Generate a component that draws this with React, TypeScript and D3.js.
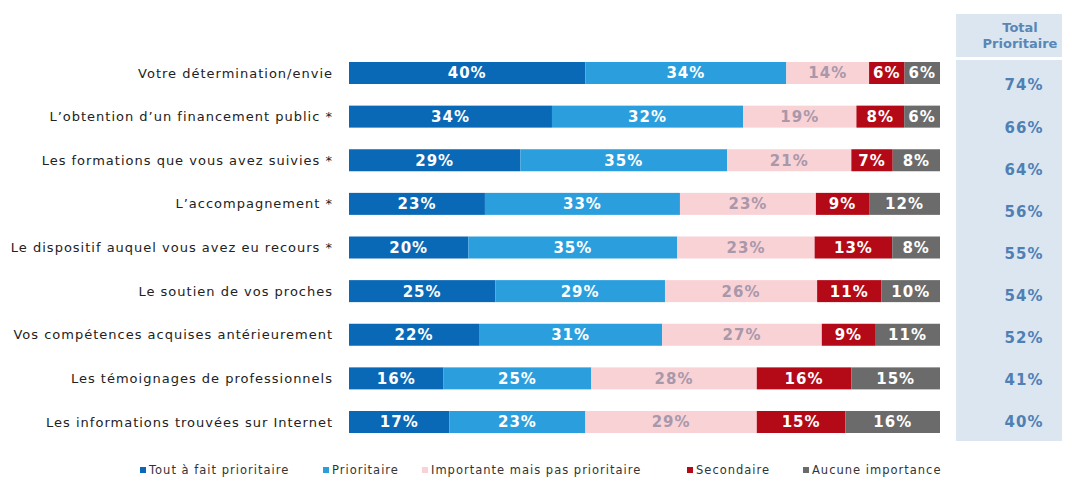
import * as d3 from 'd3'

const WIDTH = 1079
const HEIGHT = 478

const categories = [
  'Votre détermination/envie',
  'L’obtention d’un financement public *',
  'Les formations que vous avez suivies *',
  'L’accompagnement *',
  'Le dispositif auquel vous avez eu recours *',
  'Le soutien de vos proches',
  'Vos compétences acquises antérieurement',
  'Les témoignages de professionnels',
  'Les informations trouvées sur Internet',
]

const seriesNames = [
  'Tout à fait prioritaire',
  'Prioritaire',
  'Importante mais pas prioritaire',
  'Secondaire',
  'Aucune importance',
]

const toutAFait = [40, 34, 29, 23, 20, 25, 22, 16, 17]
const prioritaire = [34, 32, 35, 33, 35, 29, 31, 25, 23]
const importante = [14, 19, 21, 23, 23, 26, 27, 28, 29]
const secondaire = [6, 8, 7, 9, 13, 11, 9, 16, 15]
const aucune = [6, 6, 8, 12, 8, 10, 11, 15, 16]
const totals = [74, 66, 64, 56, 55, 54, 52, 41, 40]

const COLORS = ['#0a69b6', '#2b9fde', '#f9d2d6', '#b40a17', '#6b6b6b']
const TEXT_COLORS = ['#ffffff', '#ffffff', '#a898aa', '#ffffff', '#ffffff']
const LEGEND_X = [140, 323, 422, 687, 803]

const BAR_X0 = 349
const BAR_X1 = 940
const BAR_H = 22
const PANEL = { x: 956, w: 106, headTop: 14, headBottom: 57, bodyTop: 60, bottom: 441 }
const FONT = '"DejaVu Sans", Verdana, sans-serif'

type Row = { cat: string; values: number[] }

const rows: Row[] = categories.map((cat, i) => ({
  cat,
  values: [toutAFait[i], prioritaire[i], importante[i], secondaire[i], aucune[i]],
}))

export default function App() {
  const x = d3.scaleLinear().domain([0, 1]).range([BAR_X0, BAR_X1])
  const y = d3.scalePoint<string>().domain(categories).range([73, 422])
  const yTotal = d3.scalePoint<string>().domain(categories).range([85, 422])

  const stack = d3
    .stack<Row, number>()
    .keys(d3.range(seriesNames.length))
    .value((d, k) => d.values[k])
    .offset(d3.stackOffsetExpand)
  const layers = stack(rows)

  return (
    <svg
      width={WIDTH}
      height={HEIGHT}
      style={{ position: 'absolute', left: 0, top: 0, background: '#fff' }}
      fontFamily={FONT}
    >
      {/* total panel */}
      <rect
        x={PANEL.x}
        y={PANEL.headTop}
        width={PANEL.w}
        height={PANEL.bottom - PANEL.headTop}
        fill="#dce6f1"
      />
      <rect
        x={PANEL.x}
        y={PANEL.headBottom}
        width={PANEL.w}
        height={PANEL.bodyTop - PANEL.headBottom}
        fill="#fff"
      />
      <text
        x={PANEL.x + 64}
        y={32}
        textAnchor="middle"
        fontSize={13}
        fontWeight="bold"
        fill="#5a86b6"
      >
        Total
      </text>
      <text
        x={PANEL.x + 64}
        y={48}
        textAnchor="middle"
        fontSize={13}
        fontWeight="bold"
        fill="#5a86b6"
      >
        Prioritaire
      </text>
      {categories.map((c, i) => (
        <text
          key={c}
          x={PANEL.x + 68}
          y={yTotal(c)}
          dy="0.36em"
          textAnchor="middle"
          fontSize={15}
          fontWeight="bold"
          letterSpacing={1}
          fill="#4f80b4"
        >
          {totals[i]}%
        </text>
      ))}

      {/* category labels */}
      {categories.map((c) => (
        <text
          key={c}
          x={333}
          y={y(c)}
          dy="0.35em"
          textAnchor="end"
          fontSize={13}
          letterSpacing={1}
          fill="#222"
        >
          {c}
        </text>
      ))}

      {/* bars */}
      {layers.map((layer, k) => (
        <g key={k}>
          {layer.map((seg, i) => {
            const x0 = x(seg[0])
            const x1 = x(seg[1])
            const cy = y(rows[i].cat) ?? 0
            return (
              <g key={i}>
                <rect x={x0} y={cy - BAR_H / 2} width={x1 - x0} height={BAR_H} fill={COLORS[k]} />
                <text
                  x={(x0 + x1) / 2}
                  y={cy}
                  dy="0.36em"
                  textAnchor="middle"
                  fontSize={15}
                  fontWeight="bold"
                  letterSpacing={1}
                  fill={TEXT_COLORS[k]}
                >
                  {rows[i].values[k]}%
                </text>
              </g>
            )
          })}
        </g>
      ))}

      {/* legend */}
      {seriesNames.map((name, k) => (
        <g key={name} transform={`translate(${LEGEND_X[k]},470)`}>
          <rect x={0} y={-3} width={6} height={6} fill={COLORS[k]} />
          <text x={9} y={0} dy="0.35em" fontSize={11.5} letterSpacing={1} fill="#333">
            {name}
          </text>
        </g>
      ))}
    </svg>
  )
}
